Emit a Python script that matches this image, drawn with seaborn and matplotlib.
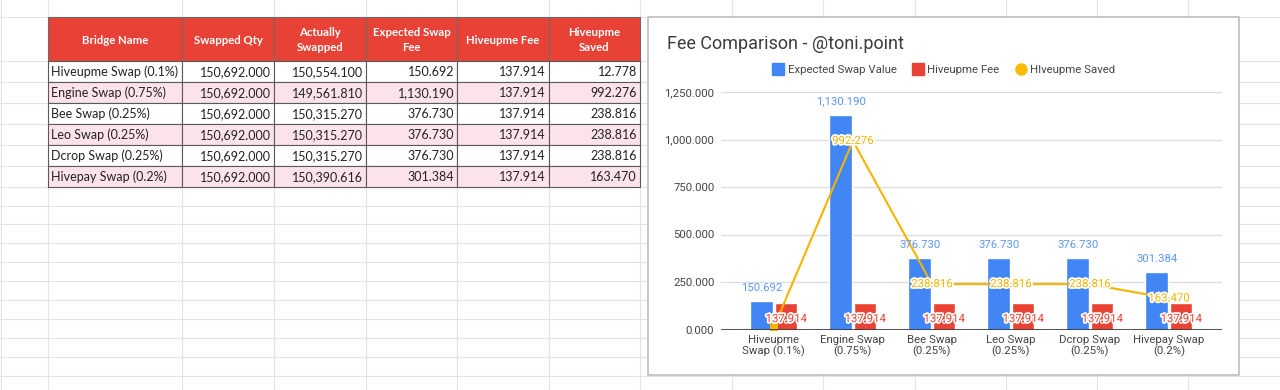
import numpy as np
import pandas as pd
import seaborn as sns
import matplotlib.pyplot as plt
from matplotlib.patches import Rectangle
from matplotlib.lines import Line2D
import matplotlib.patheffects as pe

# table / chart data
bridges = ["Hiveupme Swap (0.1%)", "Engine Swap (0.75%)", "Bee Swap (0.25%)",
           "Leo Swap (0.25%)", "Dcrop Swap (0.25%)", "Hivepay Swap (0.2%)"]
tick_labels = ["Hiveupme\nSwap (0.1%)", "Engine Swap\n(0.75%)", "Bee Swap\n(0.25%)",
               "Leo Swap\n(0.25%)", "Dcrop Swap\n(0.25%)", "Hivepay Swap\n(0.2%)"]
swapped_qty = [150692.000] * 6
actually_swapped = [150554.100, 149561.810, 150315.270, 150315.270, 150315.270, 150390.616]
expected_fee = [150.692, 1130.190, 376.730, 376.730, 376.730, 301.384]
hiveupme_fee = [137.914] * 6
saved = [12.778, 992.276, 238.816, 238.816, 238.816, 163.470]
headers = ["Bridge Name", "Swapped Qty", "Actually\nSwapped", "Expected Swap\nFee",
           "Hiveupme Fee", "Hiveupme\nSaved"]

BLUE = "#4285F4"
RED = "#EA4335"
YELLOW = "#F4B400"

sns.set_style("white")
plt.rcParams["font.family"] = ["Roboto", "DejaVu Sans"]

W, H = 1280, 390
fig = plt.figure(figsize=(12.8, 3.9), dpi=100)

# ---- spreadsheet background (pixel coords) ----
bg = fig.add_axes([0, 0, 1, 1])
bg.set_xlim(0, W)
bg.set_ylim(H, 0)
bg.axis("off")

grid_c = "#e3e3e3"
col_x = [1, 48, 182, 274, 366, 457, 549, 640, 732, 823, 915, 1006, 1097, 1188]
row_y = [17, 61, 82, 103, 124, 145, 166, 187, 206, 224, 243, 262, 281, 300, 319, 338, 357, 376]
for x in col_x:
    bg.plot([x, x], [0, H], color=grid_c, lw=0.8, zorder=0)
for y in row_y:
    bg.plot([0, W], [y, y], color=grid_c, lw=0.8, zorder=0)

# table
tcols = [48, 182, 274, 366, 457, 549, 640]
trows = [17, 61, 82, 103, 124, 145, 166, 187]
tfont = ["Lato", "DejaVu Sans"]
for j, h in enumerate(headers):
    bg.add_patch(Rectangle((tcols[j], trows[0]), tcols[j + 1] - tcols[j], trows[1] - trows[0],
                           facecolor="#E84236", edgecolor="#6b6b6b", lw=0.8, zorder=2))
    bg.text((tcols[j] + tcols[j + 1]) / 2, (trows[0] + trows[1]) / 2 + 1, h, ha="center",
            va="center", color="white", fontweight="bold", fontsize=8.2, family=tfont,
            linespacing=1.35, zorder=3)

table_vals = [swapped_qty, actually_swapped, expected_fee, hiveupme_fee, saved]
for i, name in enumerate(bridges):
    y0, y1 = trows[i + 1], trows[i + 2]
    face = "#FCE3EA" if i % 2 == 1 else "white"
    for j in range(6):
        bg.add_patch(Rectangle((tcols[j], y0), tcols[j + 1] - tcols[j], y1 - y0,
                               facecolor=face, edgecolor="#5a5a5a", lw=0.8, zorder=2))
    yc = (y0 + y1) / 2 + 0.5
    bg.text(tcols[0] + 3, yc, name, ha="left", va="center", fontsize=9, family=tfont,
            color="#222222", zorder=3)
    for j, vals in enumerate(table_vals):
        bg.text(tcols[j + 2] - 3, yc, f"{vals[i]:,.3f}", ha="right", va="center",
                fontsize=9, family=tfont, color="#222222", zorder=3)

# chart frame
bg.add_patch(Rectangle((648, 17), 591, 358, facecolor="white", edgecolor="#bdbdbd",
                       lw=1.2, zorder=4))
bg.text(667, 44, "Fee Comparison - @toni.point", ha="left", va="center", fontsize=13,
        color="#3c3c3c", zorder=5)

# ---- chart ----
px0, px1, py_top, py_bot = 720.6, 1221.5, 92, 329.5
ax = fig.add_axes([px0 / W, 1 - py_bot / H, (px1 - px0) / W, (py_bot - py_top) / H])
ax.set_zorder(6)
ax.patch.set_alpha(0)

df = pd.DataFrame({
    "bridge": tick_labels * 2,
    "series": ["Expected Swap Value"] * 6 + ["Hiveupme Fee"] * 6,
    "value": expected_fee + hiveupme_fee,
})
sns.barplot(data=df, x="bridge", y="value", hue="series", palette=[BLUE, RED],
            width=0.62, gap=0.08, saturation=1, legend=False, ax=ax, zorder=2)
sns.lineplot(x=np.arange(len(saved)), y=saved, color=YELLOW, lw=1.5, ax=ax, zorder=3,
             marker="s", markersize=6, markevery=[0], markeredgewidth=0)

ax.set_xlim(-0.675, 5.665)
ax.set_ylim(0, 1250)
ax.set_xticks(range(6))
ax.set_xticklabels(tick_labels, fontsize=8.2, color="#444444", linespacing=1.0)
ax.set_yticks([0, 250, 500, 750, 1000, 1250])
ax.set_yticklabels([f"{v:,.3f}" for v in [0, 250, 500, 750, 1000, 1250]],
                   fontsize=8.2, color="#444444")
ax.tick_params(axis="both", length=0)
ax.tick_params(axis="x", pad=4)
ax.tick_params(axis="y", pad=4.5)
ax.set_xlabel("")
ax.set_ylabel("")
for s in ax.spines.values():
    s.set_visible(False)
ax.grid(axis="y", color="#dcdcdc", lw=0.9, zorder=0)
ax.set_axisbelow(True)
ax.axhline(0, color="#333333", lw=1.2, zorder=4)

halo = [pe.withStroke(linewidth=2.5, foreground="white")]
blue_bars, red_bars = ax.containers[0], ax.containers[1]
ax.bar_label(blue_bars, labels=[f"{v:,.3f}" for v in expected_fee], padding=6,
             fontsize=8.2, color="#5E97F6", zorder=5)
for bar, v in zip(red_bars, hiveupme_fee):
    ax.annotate(f"{v:,.3f}", (bar.get_x() + bar.get_width() / 2, 0), xytext=(0, 7.5),
                textcoords="offset points", ha="center", va="center", fontsize=8.2,
                color=RED, path_effects=halo, zorder=6)
for i, v in enumerate(saved):
    if i == 0:
        continue
    ax.annotate(f"{v:,.3f}", (i, v), xytext=(0, 0), textcoords="offset points",
                ha="center", va="center", fontsize=8.2, color=YELLOW,
                path_effects=halo, zorder=6)

handles = [Line2D([], [], ls="", marker="s", markersize=8, color=BLUE),
           Line2D([], [], ls="", marker="s", markersize=8, color=RED),
           Line2D([], [], ls="", marker="o", markersize=8, color="#FBBC04")]
leg = fig.legend(handles, ["Expected Swap Value", "Hiveupme Fee", "HIveupme Saved"],
                 loc="center", bbox_to_anchor=(944 / W, 1 - 70 / H), ncol=3, frameon=False,
                 fontsize=8.2, handletextpad=0.3, columnspacing=1.4, handlelength=1.0)
for t in leg.get_texts():
    t.set_color("#444444")
leg.set_zorder(7)

fig.savefig("out.png", dpi=100)
